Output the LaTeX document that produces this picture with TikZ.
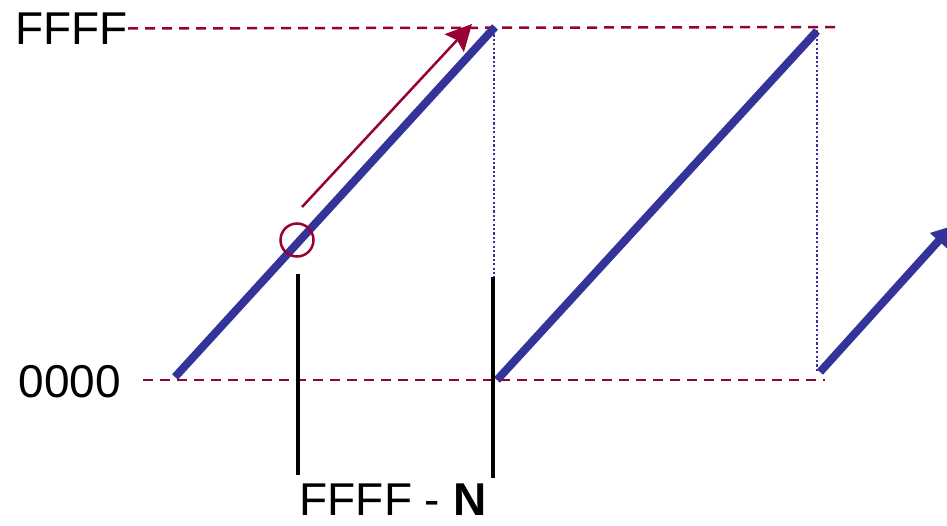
\documentclass[tikz,border=0pt]{standalone}
\usepackage{fontspec}
\setmainfont{Liberation Sans}
\usetikzlibrary{arrows.meta}
\definecolor{sawblue}{HTML}{333399}
\definecolor{markred}{HTML}{990033}
\begin{document}
\begin{tikzpicture}[x=1pt,y=-1pt,
  lbl/.style={inner sep=0pt,font=\fontsize{46}{52}\selectfont},
  level/.style={draw=markred,line width=2.5pt,dash pattern=on 10pt off 7pt},
  saw/.style={draw=sawblue,line width=8pt},
  wrapline/.style={draw=sawblue,line width=2.5pt,dash pattern=on 2.2pt off 2.2pt},
  tick/.style={draw=black,line width=3.5pt}]
\useasboundingbox (0,0) rectangle (947,525);
% labels
\node[lbl,anchor=east] (ffff) at (128,28.5) {FFFF};
\node[lbl,anchor=east] (zero) at (121,381.5) {0000};
\node[lbl] (fn) at (393,500) {FFFF - \textbf{N}};
% level lines
\coordinate (t1) at (835,27);
\coordinate (b0) at (143,380);
\coordinate (b1) at (825,380);
\draw[level] (ffff.east) -- (t1);
\draw[level] (b0) -- (b1);
% wrap dotted lines
\coordinate (w1a) at (494,30);
\coordinate (w1b) at (494,290);
\coordinate (w2a) at (817,30);
\coordinate (w2b) at (817,372);
\draw[wrapline] (w1a) -- (w1b);
\draw[wrapline] (w2a) -- (w2b);
% sawtooth
\coordinate (s1a) at (175,377);
\coordinate (s1b) at (495,27);
\coordinate (s2a) at (497,380);
\coordinate (s2b) at (817,31);
\coordinate (s3a) at (820,372);
\coordinate (s3b) at (952,226);
\draw[saw] (s1a) -- (s1b);
\draw[saw] (s2a) -- (s2b);
\draw[saw,-{Triangle[length=20pt,width=22pt]}] (s3a) -- (s3b);
% marker
\node[draw=markred,line width=2.5pt,circle,minimum size=33pt,inner sep=0pt] (mk) at (297,240) {};
\coordinate (ra) at (302,207);
\coordinate (rb) at (472,24);
\draw[markred,line width=2.5pt,-{Stealth[length=26pt,width=26pt,inset=4pt]}] (ra) -- (rb);
% ticks
\coordinate (k1a) at (298,274);
\coordinate (k1b) at (298,475);
\coordinate (k2a) at (493,277);
\coordinate (k2b) at (493,478);
\draw[tick] (k1a) -- (k1b);
\draw[tick] (k2a) -- (k2b);
\end{tikzpicture}
\end{document}
